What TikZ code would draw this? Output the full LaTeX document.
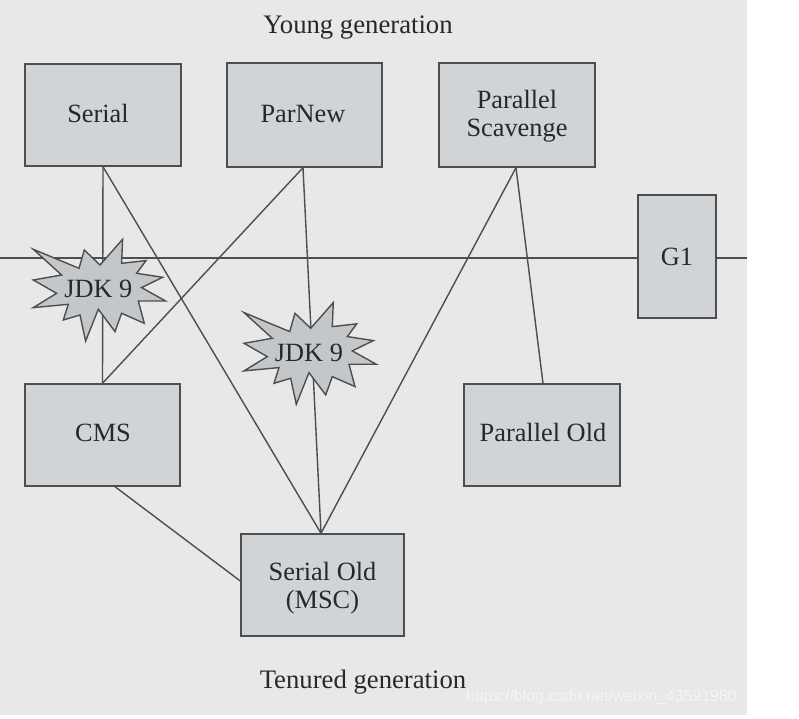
\documentclass[tikz,border=0pt]{standalone}
\usepackage{fontspec}
\setmainfont{Liberation Serif}
\newfontfamily\marksans{Liberation Sans}
\usepackage{xcolor}
\definecolor{panelgray}{RGB}{232,232,232}
\definecolor{boxgray}{RGB}{208,212,214}
\definecolor{burstgray}{RGB}{196,199,202}
\definecolor{linegray}{RGB}{78,78,78}
\definecolor{inkgray}{RGB}{40,40,40}
% nudge a line of box text: x kern, y raise, text
\newcommand{\nudge}[3]{\raisebox{#2}[10pt][3pt]{\hspace*{#1}#3}}
\tikzset{
    genbox/.style={draw=linegray, fill=boxgray, line width=0.8pt, inner sep=0pt, align=center,
        text=inkgray, font=\fontsize{15}{16}\selectfont},
    genlabel/.style={text=inkgray, inner sep=0pt, font=\fontsize{15.2}{16}\selectfont},
    link/.style={draw=linegray, line width=0.8pt},
    pics/jdkburst/.style={code={
        \draw[draw=linegray, fill=burstgray, line width=0.8pt, line join=miter]
            (-65,-40) -- (-19.3,-21) -- (-14,-39.3) -- (1.7,-24.3) -- (24.3,-50) -- (23.3,-26)
            -- (47.7,-28.7) -- (38.3,-16) -- (64.3,-12) -- (43.3,-1.7) -- (67.3,11.7) -- (40,11.7)
            -- (46,34) -- (23.3,24) -- (16.7,42.3) -- (0,20) -- (-12.7,51.7) -- (-18.3,25.7)
            -- (-35,30.7) -- (-30,15) -- (-65,18.3) -- (-41.7,4) -- (-65,-9.3) -- (-36.7,-14.3) -- cycle;
        \node[text=inkgray, inner sep=0pt, font=\fontsize{15}{16}\selectfont] (-label) at (0,0) {JDK 9};
    }}
}

\begin{document}
\begin{tikzpicture}[x=0.02cm, y=-0.02cm]
    \useasboundingbox (0,0) rectangle (799,719);
    \fill[panelgray] (0,0) rectangle (747,715);

    % Generation labels
    \node[genlabel] (young) at (358,27.5) {Young generation};
    \node[genlabel] (tenured) at (363,682) {Tenured generation};

    % Collectors
    \node[genbox, minimum width=156*0.02cm, minimum height=102*0.02cm] (serial) at (103,115) {\nudge{-5.7pt}{-0.6pt}{Serial}};
    \node[genbox, minimum width=155*0.02cm, minimum height=104*0.02cm] (parnew) at (304.5,115) {\nudge{-1.7pt}{-0.6pt}{ParNew}};
    \node[genbox, minimum width=156*0.02cm, minimum height=104*0.02cm] (scavenge) at (517,115) {\nudge{0pt}{-0.8pt}{Parallel}\\\nudge{0pt}{-0.6pt}{Scavenge}};
    \node[genbox, minimum width=155*0.02cm, minimum height=102*0.02cm] (cms) at (102.5,435) {\nudge{0.6pt}{-0.3pt}{CMS}};
    \node[genbox, minimum width=156*0.02cm, minimum height=102*0.02cm] (parold) at (542,435) {\nudge{1.1pt}{-0.3pt}{Parallel Old}};
    \node[genbox, minimum width=163*0.02cm, minimum height=102*0.02cm] (serialold) at (322.5,585) {\nudge{0pt}{-2pt}{Serial Old}\\\nudge{0pt}{-2pt}{(MSC)}};
    \node[genbox, minimum width=78*0.02cm, minimum height=123*0.02cm] (gone) at (677,256.5) {G1};

    % Boundary between the generations
    \coordinate (splitleft) at (0,258);
    \coordinate (splitright) at (747,258);
    \draw[link] (splitleft) -- (gone.west |- splitleft);
    \draw[link] (gone.east |- splitright) -- (splitright);

    % Young to tenured pairings
    \draw[link] (serial.south) -- (cms.north);
    \draw[link] (serial.south) -- ([xshift=-0.03cm]serialold.north);
    \draw[link] ([xshift=-0.03cm]parnew.south) -- (cms.north);
    \draw[link] ([xshift=-0.03cm]parnew.south) -- ([xshift=-0.03cm]serialold.north);
    \draw[link] ([xshift=-0.02cm]scavenge.south) -- ([xshift=-0.03cm]serialold.north);
    \draw[link] ([xshift=-0.02cm]scavenge.south) -- ([xshift=0.02cm]parold.north);
    \draw[link] ([xshift=0.25cm]cms.south) -- ([yshift=0.08cm]serialold.west);

    % Removed pairings
    \pic (burstone) at (98.3,289.3) {jdkburst};
    \pic (bursttwo) at (309,352.6) {jdkburst};

    % Watermark
    \node[inner sep=0pt, text=white!92!gray, font=\marksans\fontsize{9.05}{10}\selectfont] (mark) at (601.5,697) {https://blog.csdn.net/weixin\_43591980};
\end{tikzpicture}
\end{document}
